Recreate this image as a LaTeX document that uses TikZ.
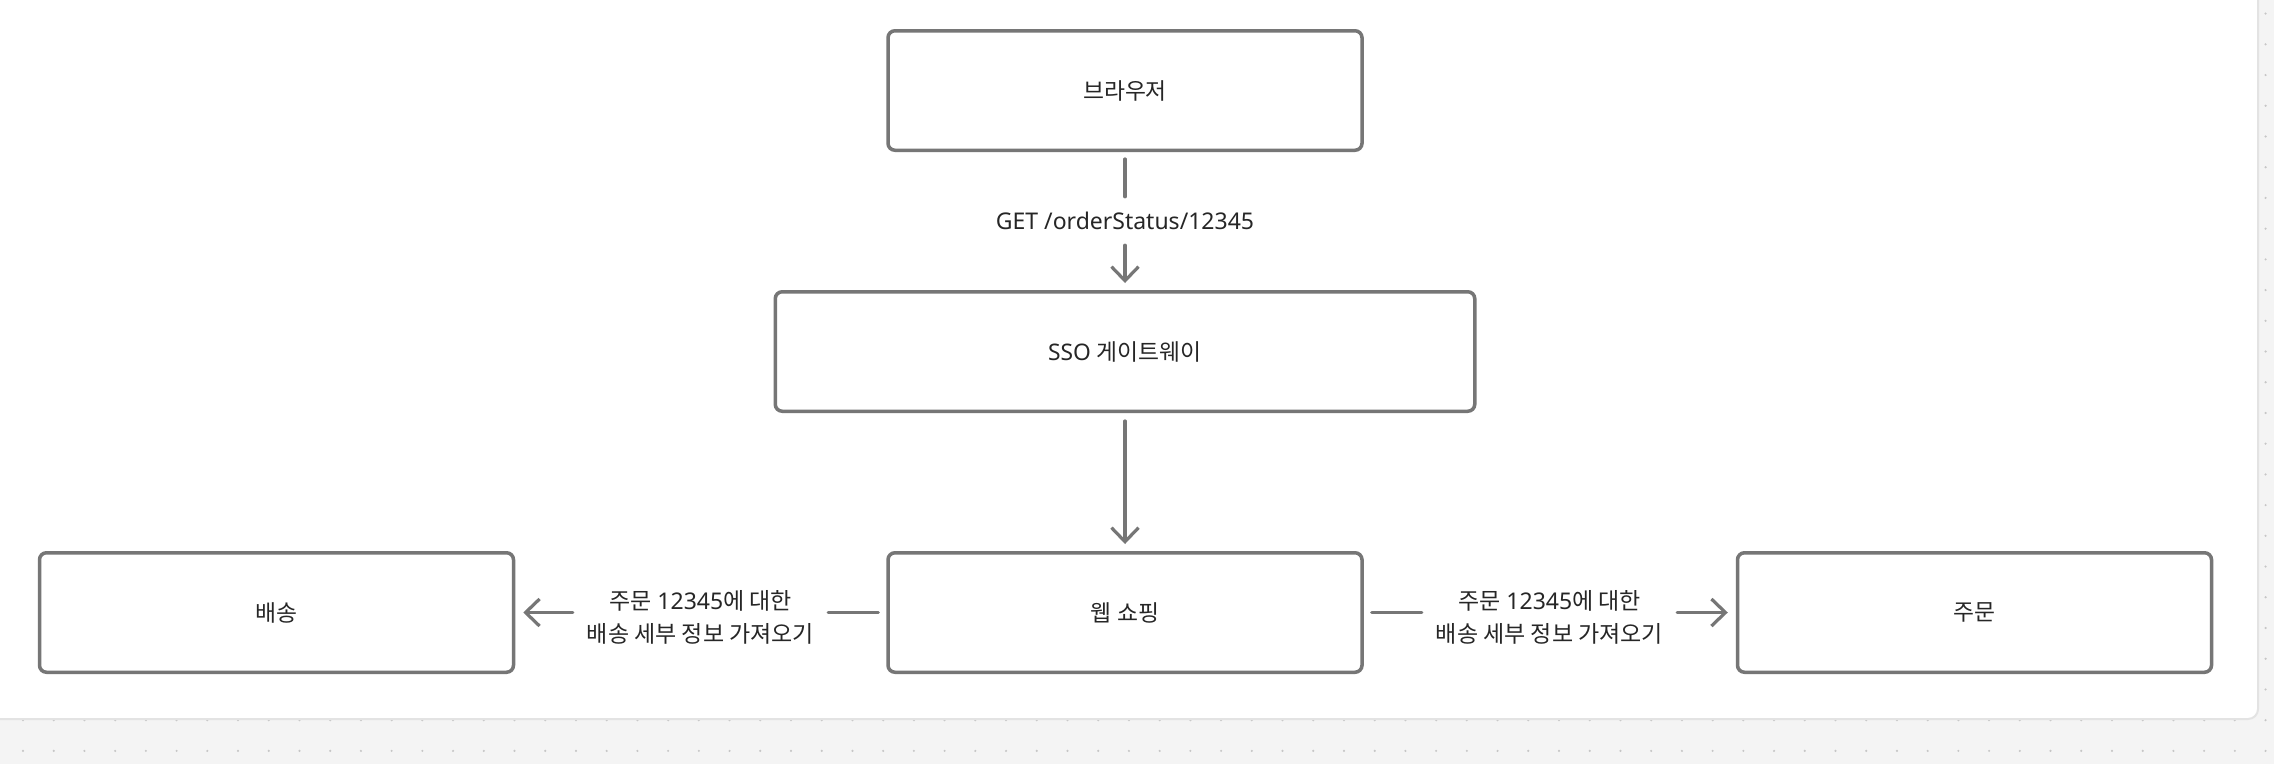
\documentclass[tikz,border=0pt]{standalone}
\usepackage{fontspec}
\setmainfont{Noto Sans}
\newfontfamily\kr{Noto Sans CJK KR}
\usetikzlibrary{arrows.meta}
\definecolor{edgec}{HTML}{767676}
\definecolor{ink}{HTML}{262626}
\definecolor{bgc}{HTML}{F4F4F4}
\definecolor{dotc}{HTML}{C6C6C6}
\definecolor{cardb}{HTML}{E3E3E3}
\begin{document}
\begin{tikzpicture}[x=1pt,y=-1pt,
  box/.style={draw=edgec, line width=3.5pt, rounded corners=7pt, fill=white,
    minimum width=474pt, minimum height=119.5pt, inner sep=0pt, text=ink,
    font=\fontsize{22.8}{26}\selectfont},
  conn/.style={draw=edgec, line width=3.2pt, line cap=round},
  arr/.style={conn, -{Straight Barb[length=14pt,width=27pt]}},
  lbl/.style={inner sep=0pt, text=ink, align=center},
  edgelbl/.style={lbl, minimum width=255pt, font=\fontsize{23}{33}\selectfont}
]
\useasboundingbox (0,0) rectangle (2274,764);
% background with dot grid
\fill[bgc] (0,0) rectangle (2274,764);
\foreach \i in {0,...,73} {
  \foreach \j in {0,...,24} {
    \fill[dotc] (23+30.72*\i, 13.6+30.72*\j) circle (1.2pt);
  }
}
% card
\draw[cardb, line width=2pt, fill=white, rounded corners=10pt] (-20,-20) rectangle (2258,719);

% boxes
\node[box] (br) at (1125,90.5) {\kr 브라우저};
\node[box, minimum width=699.5pt] (sso) at (1125,351.5) {SSO {\kr 게이트웨이}};
\node[box] (ws) at (1125,612.5) {\kr 웹 쇼핑};
\node[box] (dl) at (276.5,612.5) {\kr 배송};
\node[box] (od) at (1974.5,612.5) {\kr 주문};

% labels
\node[lbl, minimum height=48pt, font=\fontsize{23}{28}\selectfont] (gl) at (1125,221) {GET /orderStatus/12345};
\node[edgelbl] (ll) at (700.5,617) {{\kr 주문} 12345{\kr 에 대한}\\{\kr 배송 세부 정보 가져오기}};
\node[edgelbl] (rl) at (1549.5,617) {{\kr 주문} 12345{\kr 에 대한}\\{\kr 배송 세부 정보 가져오기}};

% connectors
\draw[conn, shorten <=7pt] (br) -- (gl);
\draw[arr, shorten >=7pt] (gl) -- (sso);
\draw[arr, shorten <=8pt, shorten >=7pt] (sso) -- (ws);
\draw[conn, shorten <=8pt] (ws.west) -- (ws.west -| ll.east);
\draw[arr, shorten >=8pt] (ll.west |- dl.east) -- (dl.east);
\draw[conn, shorten <=8pt] (ws.east) -- (ws.east -| rl.west);
\draw[arr, shorten >=8pt] (rl.east |- od.west) -- (od.west);
\end{tikzpicture}
\end{document}
